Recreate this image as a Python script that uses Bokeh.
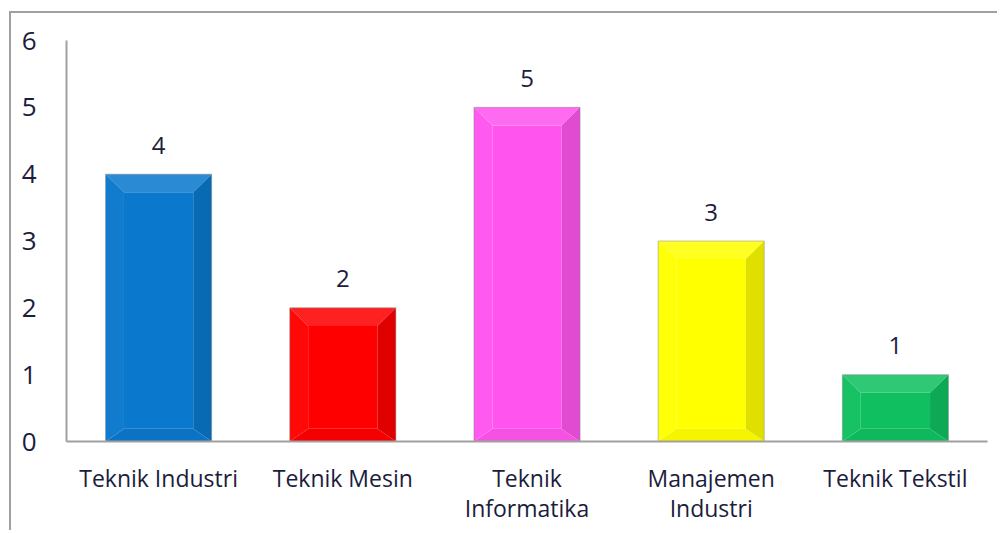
from bokeh.plotting import figure
from bokeh.models import FixedTicker
from bokeh.embed import file_html
from bokeh.resources import INLINE
from bokeh.core.properties import value

categories = ["Teknik Industri", "Teknik Mesin", "Teknik Informatika", "Manajemen Industri", "Teknik Tekstil"]
tick_labels = ["Teknik Industri", "Teknik Mesin", "Teknik\nInformatika", "Manajemen\nIndustri", "Teknik Tekstil"]
counts = [4, 2, 5, 3, 1]
colors = ["#0a78cc", "#ff0000", "#ff55ee", "#ffff00", "#10c060"]
y_ticks = [0, 1, 2, 3, 4, 5, 6]

FONT = "Open Sans"
TEXT_COLOR = "#1c1c3c"


def mix(hexcol, other, t):
    h = hexcol.lstrip("#")
    c = [int(h[i:i + 2], 16) for i in (0, 2, 4)]
    o = [int(other.lstrip("#")[i:i + 2], 16) for i in (0, 2, 4)]
    r = [round(a + (b - a) * t) for a, b in zip(c, o)]
    return "#%02x%02x%02x" % tuple(r)


p = figure(width=988, height=519, x_range=(-0.5, len(categories) - 0.5), y_range=(0, 6),
           output_backend="svg", toolbar_location=None,
           min_border_left=55, min_border_top=27, min_border_right=12, min_border_bottom=91)
p.styles = {"margin-left": "9px", "margin-top": "11px",
            "border-left": "2px solid #a0a0a0", "border-top": "2px solid #a0a0a0"}
p.outline_line_color = None
p.xgrid.grid_line_color = None
p.ygrid.grid_line_color = None

half = 0.288   # half bar width in category units
bx = 0.10      # bevel width (category units)
by = 0.27      # bevel height (value units)

xs_list, ys_list, fills = [], [], []
for i, (v, col) in enumerate(zip(counts, colors)):
    x0, x1 = i - half, i + half
    y0, y1 = 0, v
    ix0, ix1 = x0 + bx, x1 - bx
    iy0, iy1 = y0 + by * 0.7, y1 - by
    # front face
    xs_list.append([ix0, ix1, ix1, ix0]); ys_list.append([iy0, iy0, iy1, iy1]); fills.append(col)
    # top
    xs_list.append([x0, x1, ix1, ix0]); ys_list.append([y1, y1, iy1, iy1]); fills.append(mix(col, "#ffffff", 0.13))
    # bottom
    xs_list.append([x0, x1, ix1, ix0]); ys_list.append([y0, y0, iy0, iy0]); fills.append(mix(col, "#000000", 0.04))
    # left
    xs_list.append([x0, ix0, ix0, x0]); ys_list.append([y0, iy0, iy1, y1]); fills.append(mix(col, "#ffffff", 0.03))
    # right
    xs_list.append([x1, ix1, ix1, x1]); ys_list.append([y0, iy0, iy1, y1]); fills.append(mix(col, "#000000", 0.12))

p.patches(xs_list, ys_list, fill_color=fills, line_color=None)
p.quad(left=[i - half for i in range(len(counts))], right=[i + half for i in range(len(counts))],
       bottom=[0] * len(counts), top=counts, fill_color=None, line_color="#808080", line_alpha=0.45, line_width=1)

p.text(x=list(range(len(counts))), y=counts, text=[str(c) for c in counts],
       text_align="center", text_baseline="alphabetic", y_offset=-29,
       text_font=value(FONT), text_font_size="24px", text_color=TEXT_COLOR)

p.xaxis.ticker = FixedTicker(ticks=list(range(len(categories))))
p.xaxis.major_label_overrides = {i: lab for i, lab in enumerate(tick_labels)}
p.yaxis.ticker = FixedTicker(ticks=y_ticks)

for ax in (p.xaxis[0], p.yaxis[0]):
    ax.axis_line_color = "#a0a0a0"
    ax.axis_line_width = 2
    ax.major_tick_line_color = None
    ax.minor_tick_line_color = None
    ax.major_label_text_font = FONT
    ax.major_label_text_color = TEXT_COLOR

p.xaxis.major_label_text_font_size = "23px"
p.xaxis.major_label_text_line_height = 0.96
p.xaxis.major_label_standoff = 14
p.yaxis.major_label_text_font_size = "26px"
p.yaxis.major_label_standoff = 24

open("out.html", "w").write(file_html(p, INLINE))
